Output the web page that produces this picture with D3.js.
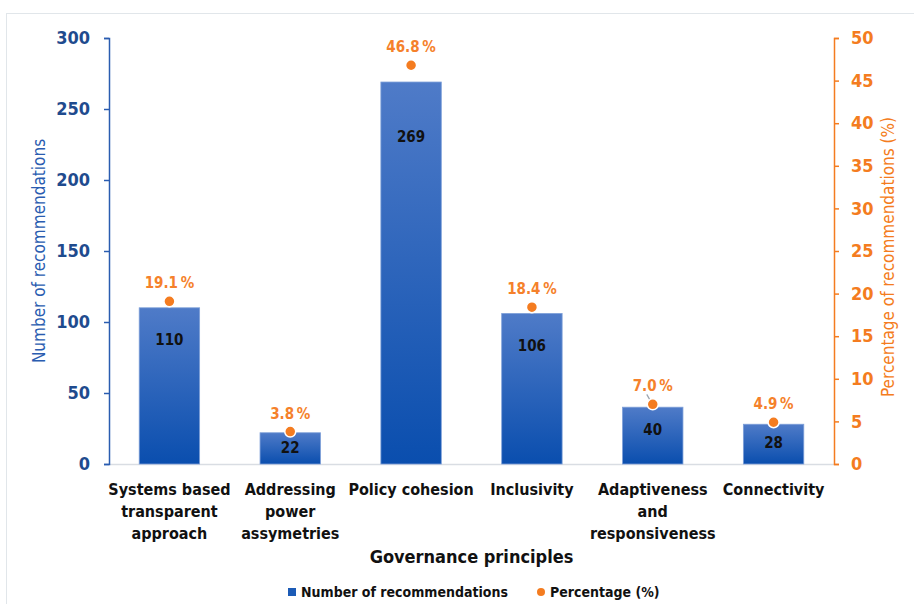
<!DOCTYPE html>
<html>
<head>
<meta charset="utf-8">
<script src="https://cdn.jsdelivr.net/npm/d3@7"></script>
<style>
body { margin: 0; background: #fff; }
text { font-family: "Liberation Sans Narrow", "DejaVu Sans Condensed", sans-serif; }
</style>
</head>
<body>
<script>
var categories = [
    ["Systems based", "transparent", "approach"],
    ["Addressing", "power", "assymetries"],
    ["Policy cohesion"],
    ["Inclusivity"],
    ["Adaptiveness", "and", "responsiveness"],
    ["Connectivity"]
];
var counts = [110, 22, 269, 106, 40, 28];
var percents = [19.1, 3.8, 46.8, 18.4, 7.0, 4.9];
var leftTicks = [0, 50, 100, 150, 200, 250, 300];
var rightTicks = [0, 5, 10, 15, 20, 25, 30, 35, 40, 45, 50];

var W = 914, H = 604;
var mLeft = 109, mRight = 834, mTop = 38, mBottom = 464;
var blue = "#2a5cb0", darkBlue = "#1f4b8e", orange = "#f47c20";

var svg = d3.select("body").append("svg")
    .attr("width", W)
    .attr("height", H);

svg.append("rect")
    .attr("x", 6.5).attr("y", 13.5)
    .attr("width", 920).attr("height", 600)
    .attr("fill", "none")
    .attr("stroke", "#e1e6ea");

var defs = svg.append("defs");
var grad = defs.append("linearGradient")
    .attr("id", "barGrad")
    .attr("x1", 0).attr("y1", 0).attr("x2", 0).attr("y2", 1);
grad.append("stop").attr("offset", "0%").attr("stop-color", "#4f7bc8");
grad.append("stop").attr("offset", "100%").attr("stop-color", "#0a4eae");

var x = d3.scaleBand()
    .domain(d3.range(categories.length))
    .range([mLeft, mRight])
    .paddingInner(0.5)
    .paddingOuter(0.25);

var y = d3.scaleLinear().domain([0, 300]).range([mBottom, mTop]);
var y2 = d3.scaleLinear().domain([0, 50]).range([mBottom, mTop]);

// baseline
svg.append("line")
    .attr("x1", mLeft).attr("x2", mRight)
    .attr("y1", mBottom + 0.5).attr("y2", mBottom + 0.5)
    .attr("stroke", "#d9dde3")
    .attr("stroke-width", 1.5);

// left axis
var yAxis = svg.append("g")
    .attr("transform", "translate(" + mLeft + ",0)")
    .call(d3.axisLeft(y).tickValues(leftTicks).tickSize(5).tickPadding(14));
yAxis.select(".domain").attr("stroke", blue).attr("stroke-width", 1.5);
yAxis.selectAll(".tick line").attr("stroke", blue).attr("stroke-width", 1.5);
yAxis.selectAll(".tick text")
    .attr("fill", darkBlue)
    .style("font-size", "18px")
    .style("font-weight", "bold");

// right axis
var yAxis2 = svg.append("g")
    .attr("transform", "translate(" + mRight + ",0)")
    .call(d3.axisRight(y2).tickValues(rightTicks).tickSize(5).tickPadding(12));
yAxis2.select(".domain").attr("stroke", orange).attr("stroke-width", 1.5);
yAxis2.selectAll(".tick line").attr("stroke", orange).attr("stroke-width", 1.5);
yAxis2.selectAll(".tick text")
    .attr("fill", orange)
    .style("font-size", "18px")
    .style("font-weight", "bold");

// bars
svg.selectAll("rect.bar")
    .data(counts)
    .enter().append("rect")
    .attr("class", "bar")
    .attr("x", function(d, i){ return x(i); })
    .attr("y", function(d){ return y(d); })
    .attr("width", x.bandwidth())
    .attr("height", function(d){ return mBottom - y(d); })
    .attr("fill", "url(#barGrad)")
    .attr("stroke", "#7d9fd8")
    .attr("stroke-width", 0.8);

svg.selectAll("text.val")
    .data(counts)
    .enter().append("text")
    .attr("class", "val")
    .text(function(d){ return d; })
    .attr("x", function(d, i){ return x(i) + x.bandwidth() / 2; })
    .attr("y", function(d){
        var h = mBottom - y(d);
        return y(d) + Math.min(h * 0.45, 16 + h * 0.1) + 6;
    })
    .attr("text-anchor", "middle")
    .attr("fill", "#111")
    .style("font-size", "15px")
    .style("font-weight", "bold");

// leader line for the 7.0 % label
svg.append("line")
    .attr("x1", x(4) + x.bandwidth() / 2 - 6).attr("y1", y2(percents[4]) - 10)
    .attr("x2", x(4) + x.bandwidth() / 2 - 2).attr("y2", y2(percents[4]) - 3)
    .attr("stroke", "#9aa3ad")
    .attr("stroke-width", 1.2);

// percentage points
svg.selectAll("circle.pt")
    .data(percents)
    .enter().append("circle")
    .attr("class", "pt")
    .attr("cx", function(d, i){ return x(i) + x.bandwidth() / 2; })
    .attr("cy", function(d){ return y2(d); })
    .attr("r", 5.5)
    .attr("fill", orange)
    .attr("stroke", "#fff")
    .attr("stroke-width", 1.5);

svg.selectAll("text.pct")
    .data(percents)
    .enter().append("text")
    .attr("class", "pct")
    .text(function(d){ return d.toFixed(1) + "\u2009%"; })
    .attr("x", function(d, i){ return x(i) + x.bandwidth() / 2; })
    .attr("y", function(d){ return y2(d) - 13; })
    .attr("text-anchor", "middle")
    .attr("fill", "#f5812b")
    .style("font-size", "15px")
    .style("font-weight", "bold");

// category labels
categories.forEach(function(lines, i){
    var t = svg.append("text")
        .attr("text-anchor", "middle")
        .attr("fill", "#111")
        .style("font-size", "16px")
        .style("font-weight", "bold");
    lines.forEach(function(s, j){
        t.append("tspan")
            .attr("x", x(i) + x.bandwidth() / 2)
            .attr("y", 495 + j * 22)
            .text(s);
    });
});

// axis titles
svg.append("text")
    .text("Governance principles")
    .attr("x", (mLeft + mRight) / 2)
    .attr("y", 563)
    .attr("text-anchor", "middle")
    .attr("fill", "#111")
    .style("font-size", "18px")
    .style("font-weight", "bold");

svg.append("text")
    .text("Number of recommendations")
    .attr("transform", "translate(45," + ((mTop + mBottom) / 2) + ") rotate(-90)")
    .attr("text-anchor", "middle")
    .attr("fill", blue)
    .style("font-size", "17px");

svg.append("text")
    .text("Percentage of recommendations (%)")
    .attr("transform", "translate(894," + ((mTop + mBottom) / 2 + 6) + ") rotate(-90)")
    .attr("text-anchor", "middle")
    .attr("fill", orange)
    .style("font-size", "17px");

// legend
var lg = svg.append("g").attr("transform", "translate(288,593)");
lg.append("rect")
    .attr("x", 0).attr("y", -5)
    .attr("width", 8).attr("height", 8)
    .attr("fill", "#1c5bb6");
lg.append("text")
    .text("Number of recommendations")
    .attr("x", 13).attr("y", 4)
    .attr("fill", "#111")
    .style("font-size", "14px")
    .style("font-weight", "bold");
lg.append("circle")
    .attr("cx", 253).attr("cy", -1)
    .attr("r", 4)
    .attr("fill", orange);
lg.append("text")
    .text("Percentage (%)")
    .attr("x", 262).attr("y", 4)
    .attr("fill", "#111")
    .style("font-size", "14px")
    .style("font-weight", "bold");
</script>
</body>
</html>
